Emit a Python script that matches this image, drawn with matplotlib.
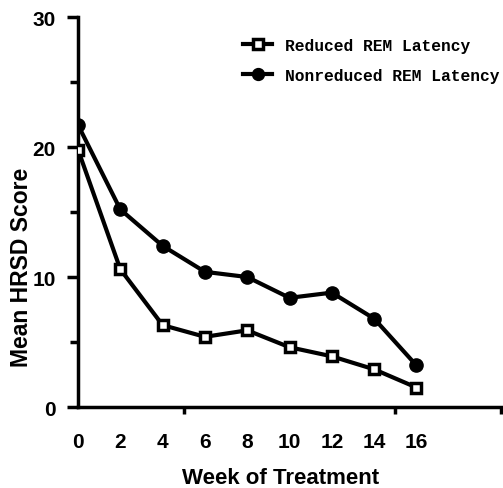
import matplotlib
matplotlib.use('Agg')
import matplotlib.pyplot as plt

weeks = [0, 2, 4, 6, 8, 10, 12, 14, 16]
reduced = [19.8, 10.6, 6.3, 5.4, 5.9, 4.6, 3.9, 2.9, 1.5]
nonreduced = [21.7, 15.2, 12.4, 10.4, 10.0, 8.4, 8.8, 6.8, 3.2]
week_labels = ['0', '2', '4', '6', '8', '10', '12', '14', '16']
y_ticks = [0, 10, 20, 30]

plt.rcParams['font.family'] = ['Liberation Sans', 'DejaVu Sans']

fig = plt.figure(figsize=(5.03, 4.89), dpi=100)
ax = fig.add_axes([0.1551, 0.1656, 0.841, 0.7975])

ax.plot(weeks, nonreduced, c='black', lw=3, marker='o', ms=9.5,
        mfc='black', mec='black', label='Nonreduced REM Latency', zorder=3)
ax.plot(weeks, reduced, c='black', lw=3, marker='s', ms=7.5,
        mfc='white', mec='black', mew=2.5, label='Reduced REM Latency', zorder=4)

ax.set_xlim(0, 20)
ax.set_ylim(0, 30)

for s in ['top', 'right']:
    ax.spines[s].set_visible(False)
for s in ['left', 'bottom']:
    ax.spines[s].set_linewidth(2.5)

# labels at the data weeks, axis ticks every 5
ax.set_xticks(weeks)
ax.set_xticklabels(week_labels)
ax.set_xticks([0, 5, 10, 15, 20], minor=True)
ax.tick_params(axis='x', which='major', length=0, pad=18, labelsize=15)
ax.tick_params(axis='x', which='minor', length=5, width=2.5, direction='out')

ax.set_yticks(y_ticks)
ax.set_yticks([5, 15, 25], minor=True)
ax.tick_params(axis='y', which='major', length=8, width=2.5, pad=8, labelsize=15)
ax.tick_params(axis='y', which='minor', length=5.5, width=2.5)
for lab in ax.get_xticklabels() + ax.get_yticklabels():
    lab.set_fontweight('bold')

ax.set_xlabel('Week of Treatment', fontsize=16, fontweight='bold')
ax.set_ylabel('Mean HRSD Score', fontsize=16.5, fontweight='bold')
ax.xaxis.set_label_coords(0.557, 0.043, transform=fig.transFigure)
ax.yaxis.set_label_coords(0.066, 0.454, transform=fig.transFigure)

h, l = ax.get_legend_handles_labels()
leg = ax.legend(h[::-1], l[::-1], loc='upper left', bbox_to_anchor=(0.483, 0.92),
                bbox_transform=fig.transFigure, frameon=False, borderpad=0,
                borderaxespad=0, handlelength=1.8, handletextpad=0.8,
                labelspacing=0.9, markerscale=0.9,
                prop={'family': 'Liberation Mono', 'weight': 'bold', 'size': 11.7})

fig.savefig('out.png', dpi=100)
